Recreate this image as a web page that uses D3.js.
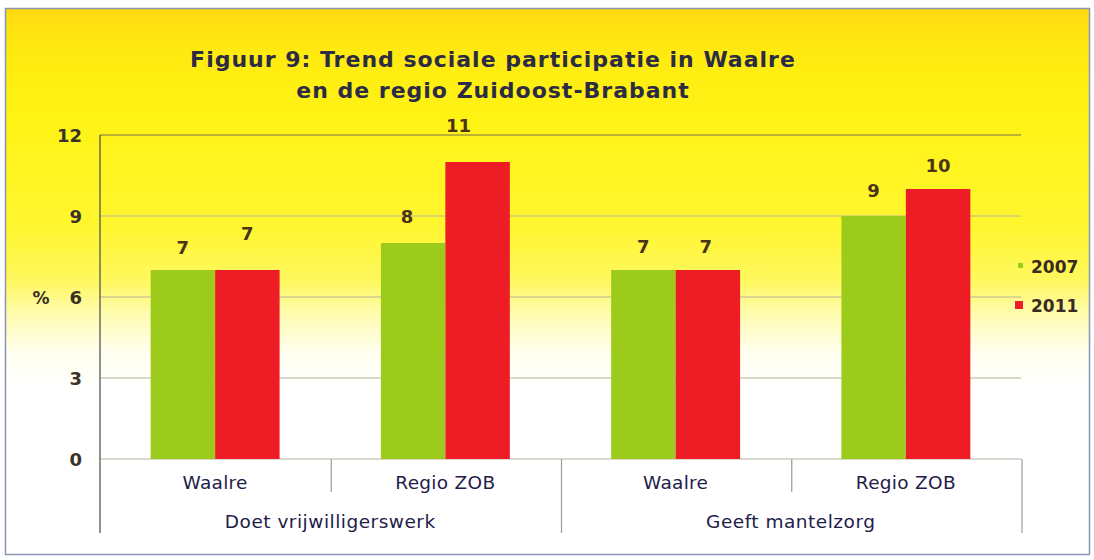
<!DOCTYPE html>
<html><head><meta charset="utf-8">
<script src="https://cdn.jsdelivr.net/npm/d3@7"></script>
<style>html,body{margin:0;padding:0;background:#fff;}svg{display:block;}</style>
</head><body>
<script>
const categories = ["Waalre","Regio ZOB","Waalre","Regio ZOB"];
const groups = ["Doet vrijwilligerswerk","Geeft mantelzorg"];
const seriesNames = ["2007","2011"];
const values2007 = [7,8,7,9];
const values2011 = [7,11,7,10];
const yTicks = [0,3,6,9,12];
const titleLines = ["Figuur 9: Trend sociale participatie in Waalre","en de regio Zuidoost-Brabant"];
const yLabel = "%";

const W=1094,H=560;
const colors = {"2007":"#9CCB1C","2011":"#EE1D25"};
const font = "'DejaVu Sans', Verdana, sans-serif";
// label vertical offsets (px above bar top), per category per series
const labelDy = [[23,37],[27,37],[24,24],[26,24]];
const labelDx = [[0,0],[-6,-19],[0,-2],[0,0]];

const svg = d3.select("body").append("svg").attr("width",W).attr("height",H);
const defs = svg.append("defs");
const g1 = defs.append("linearGradient").attr("id","bg").attr("x1",0).attr("y1",0).attr("x2",0).attr("y2",1);
[[0,"#FFDA10"],[0.08,"#FFEA10"],[0.2,"#FFF314"],[0.4,"#FFF630"],[0.5,"#FFF860"],[0.56,"#FFFCB0"],[0.63,"#FFFFF0"],[0.7,"#FFFFFF"],[1,"#FFFFFF"]]
 .forEach(([o,c])=>g1.append("stop").attr("offset",o).attr("stop-color",c));

svg.append("rect").attr("x",5.5).attr("y",8.5).attr("width",1084).attr("height",546)
  .attr("fill","url(#bg)").attr("stroke","#8C94B4").attr("stroke-width",1.5);

const x0 = d3.scaleBand().domain(d3.range(categories.length)).range([100,1021]).padding(0);
const x1 = d3.scaleBand().domain(seriesNames).range([x0.bandwidth()*0.22, x0.bandwidth()*0.78]).padding(0);
const y = d3.scaleLinear().domain([0,12]).range([459,135]);

// gridlines
svg.append("g").selectAll("line").data(yTicks).join("line")
  .attr("x1",100).attr("x2",1021).attr("y1",d=>y(d)).attr("y2",d=>y(d))
  .attr("stroke",d=>d===12?"#7a7050":"#b8b49c").attr("stroke-width",1.2);

// bars
const data = categories.map((c,i)=>({i, vals:[values2007[i],values2011[i]]}));
const cg = svg.append("g").selectAll("g").data(data).join("g")
  .attr("transform",d=>`translate(${x0(d.i)},0)`);
cg.selectAll("rect").data(d=>d.vals.map((v,k)=>({k,v}))).join("rect")
  .attr("x",d=>x1(seriesNames[d.k])).attr("width",x1.bandwidth())
  .attr("y",d=>y(d.v)).attr("height",d=>y(0)-y(d.v))
  .attr("fill",d=>colors[seriesNames[d.k]]);

// value labels
data.forEach(d=>{
  d.vals.forEach((v,k)=>{
    svg.append("text").attr("x",x0(d.i)+x1(seriesNames[k])+x1.bandwidth()/2+labelDx[d.i][k])
      .attr("y",y(v)-labelDy[d.i][k]+7).attr("text-anchor","middle")
      .attr("font-family",font).attr("font-weight","bold").attr("font-size",18)
      .attr("fill","#4a3418").text(v);
  });
});

// y axis line
svg.append("line").attr("x1",100).attr("x2",100).attr("y1",135).attr("y2",533).attr("stroke","#555").attr("stroke-width",1.3);
// y tick labels
svg.append("g").selectAll("text").data(yTicks).join("text")
  .attr("x",82).attr("y",d=>y(d)+6.5).attr("text-anchor","end")
  .attr("font-family",font).attr("font-weight","bold").attr("font-size",18).attr("fill","#3a3226").text(d=>d);
svg.append("text").attr("x",41).attr("y",y(6)+6.5).attr("text-anchor","middle")
  .attr("font-family",font).attr("font-weight","bold").attr("font-size",17).attr("fill","#3a3226").text(yLabel);

// category separators
const sepX = d3.range(categories.length+1).map(i=> i<categories.length? x0(i) : 1021);
sepX.forEach((sx,i)=>{
  if(i===0) return;
  const full = (i%2===0);
  svg.append("line").attr("x1",sx+1).attr("x2",sx+1).attr("y1",459).attr("y2",full?533:492)
    .attr("stroke","#9a9aa4").attr("stroke-width",1.2);
});
// category labels
svg.append("g").selectAll("text").data(categories).join("text")
  .attr("x",(d,i)=>x0(i)+x0.bandwidth()/2).attr("y",489).attr("text-anchor","middle")
  .attr("font-family",font).attr("font-size",18.5).attr("letter-spacing",0.3).attr("fill","#1e2048").text(d=>d);
svg.append("g").selectAll("text").data(groups).join("text")
  .attr("x",(d,i)=>x0(i*2)+x0.bandwidth()).attr("y",528).attr("text-anchor","middle")
  .attr("font-family",font).attr("font-size",18.5).attr("letter-spacing",0.5).attr("fill","#1e2048").text(d=>d);

// title
svg.append("g").selectAll("text").data(titleLines).join("text")
  .attr("x",493).attr("y",(d,i)=>67+i*31).attr("text-anchor","middle")
  .attr("font-family",font).attr("font-weight","bold").attr("font-size",22).attr("letter-spacing",1)
  .attr("fill","#2b2b45").text(d=>d);

// legend
const leg = svg.append("g").selectAll("g").data(seriesNames).join("g")
  .attr("transform",(d,i)=>`translate(1020,${266+i*39})`);
leg.append("rect").attr("x",(d,i)=>i===0?-2:-5).attr("y",(d,i)=>i===0?-3:-4)
  .attr("width",(d,i)=>i===0?5:8).attr("height",(d,i)=>i===0?5:8).attr("fill",d=>colors[d]);
leg.append("text").attr("x",11).attr("y",6.5).attr("font-family",font).attr("font-weight","bold")
  .attr("font-size",17).attr("fill","#3a2a22").text(d=>d);
</script>
</body></html>
